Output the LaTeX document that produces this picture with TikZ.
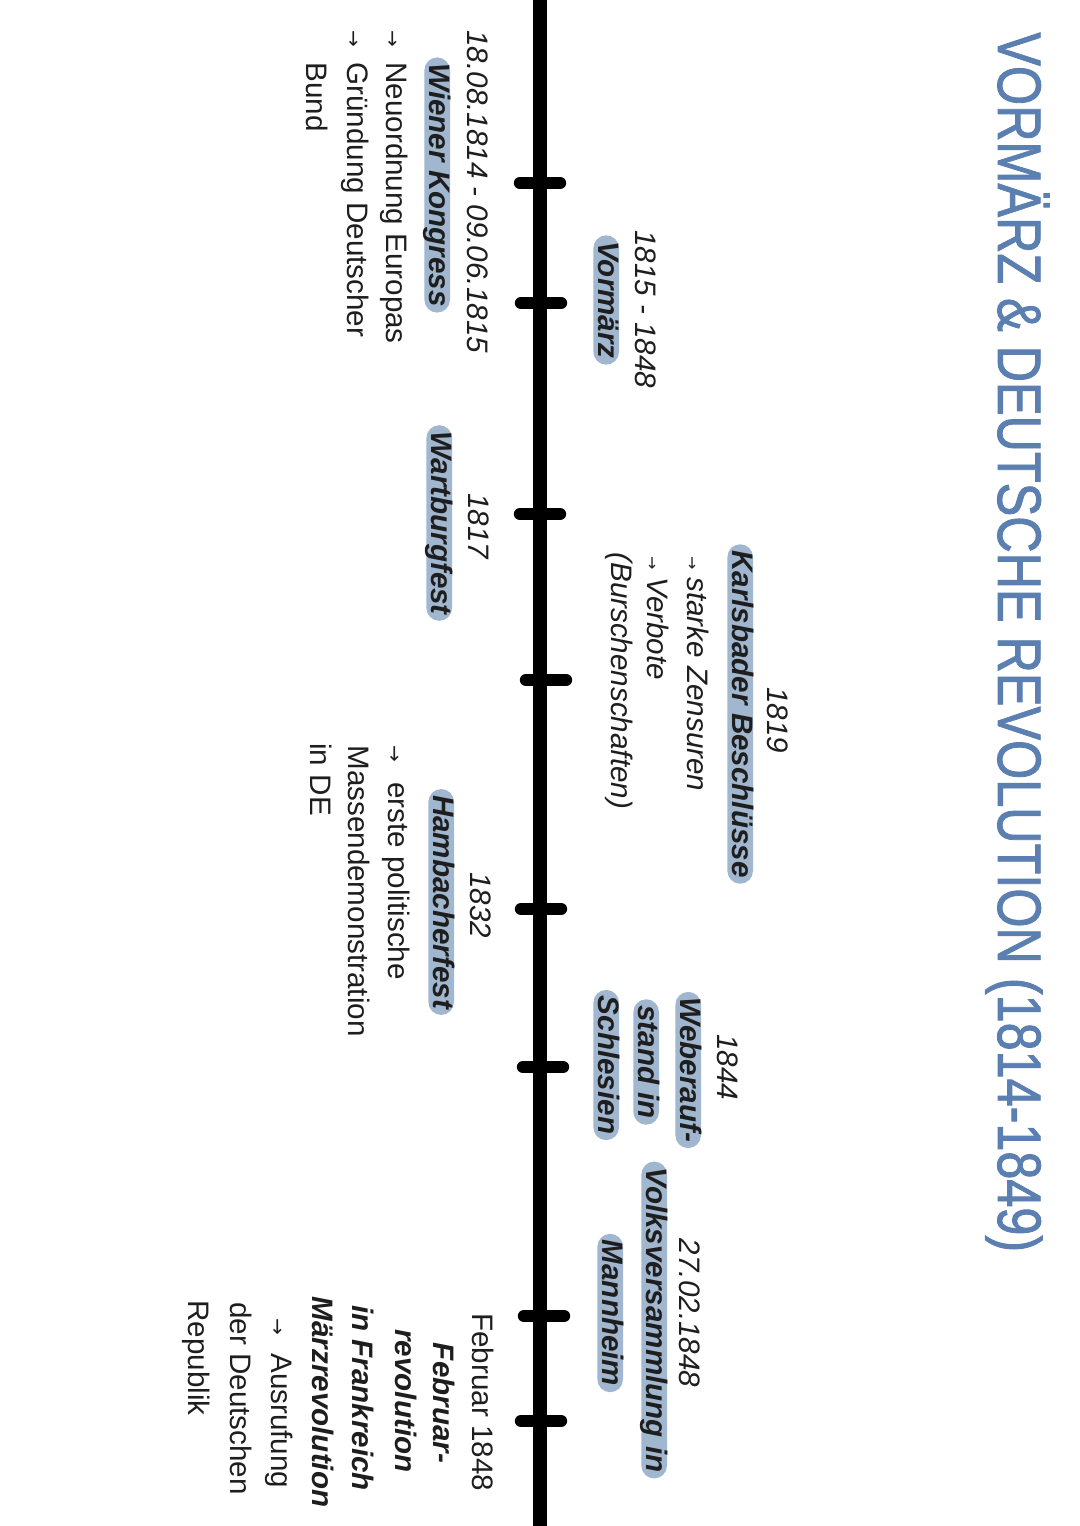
\documentclass[tikz,border=0pt]{standalone}
\usepackage{fontspec}
\usepackage{graphicx}
\setmainfont{Liberation Sans}
\newfontfamily\arrowfont{DejaVu Sans}
\newfontfamily\titlefont[FakeBold=1.6]{Liberation Sans}
\definecolor{ink}{RGB}{30,30,30}
\definecolor{hlc}{RGB}{161,183,208}
\definecolor{titlec}{RGB}{90,127,176}
\newcommand\bodyfont{\fontsize{14.8}{17}\selectfont}
\newcommand\tlarrow[2]{\makebox[#1][l]{\arrowfont\upshape\mdseries\fontsize{#2}{#2}\selectfont →}}
\tikzset{
  txt/.style={rotate=-90, inner sep=0pt, font=\bodyfont, text=ink},
  dat/.style={txt, font=\bodyfont\itshape},
  bi/.style={txt, font=\bodyfont\bfseries\itshape},
  hl/.style={rotate=-90, fill=hlc, rounded corners=6.4pt, inner xsep=3pt, inner ysep=0pt,
    text height=10.4pt, text depth=2.4pt, font=\bodyfont\bfseries\itshape, text=ink},
  titlestyle/.style={rotate=-90, inner sep=0pt, font=\titlefont\fontsize{30.7}{36}\selectfont, text=titlec},
  tlline/.style={line width=7pt, draw=black},
  tlmark/.style={line width=6.2pt, line cap=round, draw=black},
}
\begin{document}
\begin{tikzpicture}[x=0.5pt,y=-0.5pt]
\fill[white] (0,0) rectangle (1080,1526);
\useasboundingbox (0,0) rectangle (1080,1526);

% title
\node[titlestyle, anchor=base west] (title) at (998,32)
  {\scalebox{0.82}[1]{VORMÄRZ \& DEUTSCHE REVOLUTION (1814-1849)}};

% timeline
\coordinate (tlTop) at (540,0);
\coordinate (tlBot) at (540,1526);
\draw[tlline] (tlTop) -- (tlBot);
\foreach \n/\yy/\xx in {1/183/540, 2/303/541, 3/514/540, 4/680/546, 5/909/541, 6/1067/543, 7/1316/544, 8/1421/541}{
  \coordinate (tA\n) at (\xx-20,\yy);
  \coordinate (tB\n) at (\xx+20,\yy);
  \draw[tlmark] (tA\n) -- (tB\n);
}

% Wiener Kongress
\node[dat, anchor=base west] (dWien) at (467,30) {18.08.1814 - 09.06.1815};
\node[hl, anchor=south] (hWien) at (424,185) {Wiener Kongress};
\node[txt, anchor=base west] (w1) at (386,30) {\tlarrow{16pt}{10}Neuordnung Europas};
\node[txt, anchor=base west] (w2) at (347,30) {\tlarrow{16pt}{10}Gründung Deutscher};
\node[txt, anchor=base west] (w3) at (306,62) {Bund};

% Vormaerz
\node[dat, anchor=base west] (dVor) at (635,230) {1815 - 1848};
\node[hl, anchor=south] (hVor) at (593,300) {Vormärz};

% Wartburgfest
\node[dat, anchor=base west] (dWart) at (468,493) {1817};
\node[hl, anchor=south] (hWart) at (426,523) {Wartburgfest};

% Karlsbader Beschluesse
\node[dat, anchor=base west] (dKarl) at (767,687) {1819};
\node[hl, anchor=south] (hKarl) at (727,714) {Karlsbader Beschlüsse};
\node[dat, anchor=base west] (k1) at (687,556) {\tlarrow{10.5pt}{8}starke Zensuren};
\node[dat, anchor=base west] (k2) at (647,556) {\tlarrow{10.5pt}{8}Verbote};
\node[dat, anchor=base west] (k3) at (611,552) {(Burschenschaften)};

% Hambacherfest
\node[dat, anchor=base west] (dHamb) at (470,872) {1832};
\node[hl, anchor=south] (hHamb) at (428,902) {Hambacherfest};
\node[txt, anchor=base west] (h1) at (388,745) {\tlarrow{18.5pt}{10}erste politische};
\node[txt, anchor=base west] (h2) at (348,745) {Massendemonstration};
\node[txt, anchor=base west] (h3) at (310,743) {in DE};

% Weberaufstand
\node[dat, anchor=base] (dWeb) at (717,1067) {1844};
\node[hl, anchor=south] (hWeb1) at (675,1070) {Weberauf-};
\node[hl, anchor=south] (hWeb2) at (633,1062) {stand in};
\node[hl, anchor=south] (hWeb3) at (593,1065) {Schlesien};

% Volksversammlung
\node[dat, anchor=base] (dVolk) at (679,1313) {27.02.1848};
\node[hl, anchor=south] (hVolk1) at (641,1320) {Volksversammlung in};
\node[hl, anchor=south] (hVolk2) at (597,1313) {Mannheim};

% Februar 1848
\node[txt, anchor=base west] (dFeb) at (472,1313) {Februar 1848};
\node[bi, anchor=base] (f1) at (433,1403) {Februar-};
\node[bi, anchor=base] (f2) at (395,1401) {revolution};
\node[bi, anchor=base] (f3) at (352,1398) {in Frankreich};
\node[bi, anchor=base] (f4) at (312,1402) {Märzrevolution};
\node[txt, anchor=base west] (f5) at (271,1318) {\tlarrow{17.5pt}{10}Ausrufung};
\node[txt, anchor=base west] (f6) at (230,1302) {der Deutschen};
\node[txt, anchor=base west] (f7) at (188,1300) {Republik};
\end{tikzpicture}
\end{document}
